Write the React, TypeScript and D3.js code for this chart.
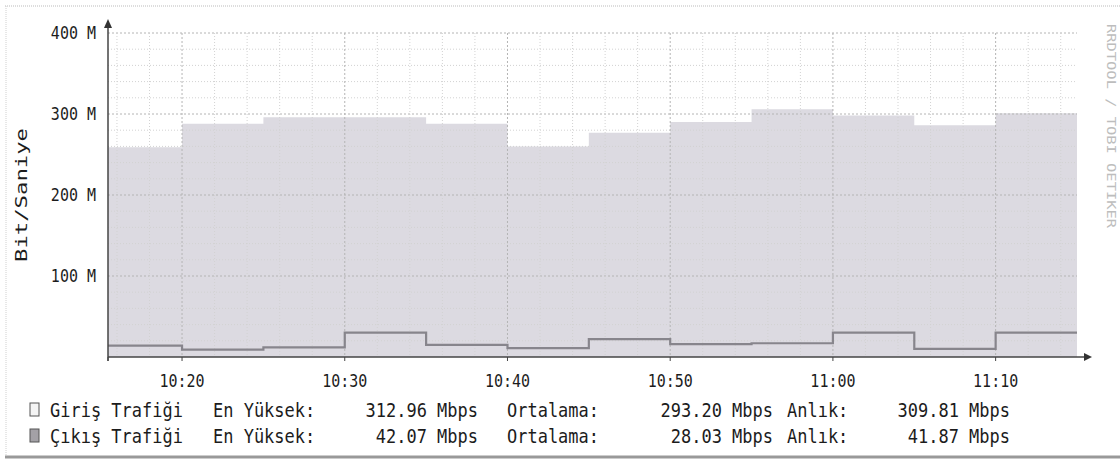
import React from "react";
import * as d3 from "d3";

// 5 minute steps (start of each step)
const stepTimes = ["10:15", "10:20", "10:25", "10:30", "10:35", "10:40", "10:45", "10:50", "10:55", "11:00", "11:05", "11:10"];
const endTime = "11:15";
// Mbit/s
const incoming = [259, 288, 296, 296, 288, 260, 277, 290, 306, 298, 286, 301];
const outgoing = [14, 9, 12, 30, 15, 11, 22, 16, 17, 30, 10, 30];

const yTicks = [100, 200, 300, 400];
const xTickLabels = ["10:20", "10:30", "10:40", "10:50", "11:00", "11:10"];

const seriesNames = ["Giriş Trafiği", "Çıkış Trafiği"];
const maxVals = ["312.96", "42.07"];
const avgVals = ["293.20", "28.03"];
const curVals = ["309.81", "41.87"];

const W = 1120;
const H = 464;
const FONT = "'DejaVu Sans Mono', monospace";

const parse = d3.timeParse("%H:%M:%S");
const t = (s: string) => parse(s.length === 5 ? s + ":00" : s) as Date;

// scanned text looks a bit stretched vertically
const Txt = ({ x, y, anchor, size, children }: any) => (
  <text transform={`translate(${x},${y}) scale(1,1.15)`} dy="0.35em" textAnchor={anchor || "start"}
    fontFamily={FONT} fontSize={size} fill="#1c1c1c">{children}</text>
);

export default function App() {
  const x = d3.scaleTime().domain([t("10:15:27"), t("11:15")]).range([108, 1077]).clamp(true);
  const y = d3.scaleLinear().domain([0, 400]).range([357, 33]);

  const pts = (vals: number[]) =>
    stepTimes.map((s, i) => ({ d: t(s), v: vals[i] })).concat([{ d: t(endTime), v: vals[vals.length - 1] }]);

  const area = d3.area<{ d: Date; v: number }>()
    .curve(d3.curveStepAfter)
    .x(p => x(p.d))
    .y0(y(0))
    .y1(p => y(p.v));
  const line = d3.line<{ d: Date; v: number }>()
    .curve(d3.curveStepAfter)
    .x(p => x(p.d))
    .y(p => y(p.v));

  const minorY = d3.range(20, 401, 20);
  const minorX = d3.timeMinute.every(2)!.range(t("10:16"), t("11:15:01"));
  const majorX = xTickLabels.map(t);

  const [x0, x1] = x.range();
  const rows = [410, 436];

  return (
    <svg width={W} height={H} style={{ position: "absolute", left: 0, top: 0, background: "#fff" }}>
      {/* frame */}
      <line x1={5} x2={W} y1={6} y2={6} stroke="#bbb" strokeDasharray="1,1" />
      <line x1={6} x2={6} y1={6} y2={456} stroke="#d0d0d0" strokeDasharray="1,1" />
      <line x1={5} x2={W} y1={457} y2={457} stroke="#999" strokeWidth={3} />

      {/* data */}
      <path d={area(pts(incoming))!} fill="#dcdae1" />

      {/* grid */}
      {minorY.map(v => (
        <line key={"hy" + v} x1={x0} x2={x1} y1={y(v)} y2={y(v)}
          stroke={v % 100 === 0 ? "#b4b4b4" : "#d2d2d2"} strokeWidth={1}
          strokeDasharray={v % 100 === 0 ? "2,2" : "1,2"} />
      ))}
      {minorX.map((d, i) => {
        const major = d.getMinutes() % 10 === 0;
        return (
          <line key={"vx" + i} x1={x(d)} x2={x(d)} y1={y(400)} y2={y(0)}
            stroke={major ? "#b4b4b4" : "#d2d2d2"} strokeDasharray={major ? "2,2" : "1,2"} />
        );
      })}

      <path d={line(pts(outgoing))!} fill="none" stroke="#87858c" strokeWidth={2.2} />

      {/* axes */}
      <line x1={x0} x2={1086} y1={y(0)} y2={y(0)} stroke="#444" strokeWidth={1.5} />
      <path d={`M1092,${y(0)} L1084,${y(0) - 4} L1084,${y(0) + 4} Z`} fill="#333" />
      <line x1={x0} x2={x0} y1={y(0) + 4} y2={26} stroke="#444" strokeWidth={1.5} />
      <path d={`M${x0},19 L${x0 - 4},28 L${x0 + 4},28 Z`} fill="#333" />
      {[x0, ...majorX.map(d => x(d))].map((px, i) => (
        <line key={"tk" + i} x1={px} x2={px} y1={y(0)} y2={y(0) + 4} stroke="#444" />
      ))}

      {/* tick labels */}
      {yTicks.map(v => (
        <Txt key={"yl" + v} x={96} y={y(v)} anchor="end" size={15}>{`${v} M`}</Txt>
      ))}
      {majorX.map((d, i) => (
        <Txt key={"xl" + i} x={x(d)} y={381} anchor="middle" size={15}>{xTickLabels[i]}</Txt>
      ))}

      <text transform="translate(27,195) rotate(-90)" textAnchor="middle" fontFamily={FONT}
        fontSize={16} fill="#1c1c1c" textLength={134} lengthAdjust="spacingAndGlyphs">Bit/Saniye</text>

      <text transform="translate(1107,24) rotate(90)" fontFamily={FONT} fontSize={13} fill="#bdbdbd"
        textLength={204} lengthAdjust="spacingAndGlyphs">RRDTOOL / TOBI OETIKER</text>

      {/* legend */}
      {seriesNames.map((name, i) => {
        const cy = rows[i];
        return (
          <g key={"lg" + i}>
            <rect x={30} y={cy - 7} width={9} height={13} fill={i === 0 ? "#f4f4f4" : "#a3a1a6"} stroke="#555" strokeWidth={1} />
            <Txt x={50} y={cy} size={17}>{name}</Txt>
            <Txt x={213} y={cy} size={17}>En Yüksek:</Txt>
            <Txt x={478} y={cy} anchor="end" size={17}>{`${maxVals[i]} Mbps`}</Txt>
            <Txt x={507} y={cy} size={17}>Ortalama:</Txt>
            <Txt x={773} y={cy} anchor="end" size={17}>{`${avgVals[i]} Mbps`}</Txt>
            <Txt x={787} y={cy} size={17}>Anlık:</Txt>
            <Txt x={1010} y={cy} anchor="end" size={17}>{`${curVals[i]} Mbps`}</Txt>
          </g>
        );
      })}
    </svg>
  );
}
